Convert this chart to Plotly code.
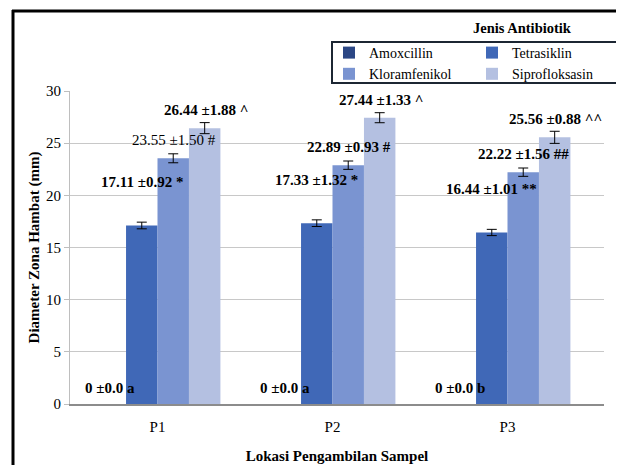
import plotly.graph_objects as go

# ---------------- data ----------------
categories = ["P1", "P2", "P3"]
series_names = ["Amoxcillin", "Tetrasiklin", "Kloramfenikol", "Siprofloksasin"]
amoxcillin = [0, 0, 0]
tetrasiklin = [17.11, 17.33, 16.44]
kloramfenikol = [23.55, 22.89, 22.22]
siprofloksasin = [26.44, 27.44, 25.56]
# error bar half-heights as drawn in the picture
err_amoxcillin = [0, 0, 0]
err_tetrasiklin = [0.32, 0.32, 0.30]
err_kloramfenikol = [0.43, 0.40, 0.40]
err_siprofloksasin = [0.53, 0.48, 0.58]
# value labels
lbl_amoxcillin = ["0 ±0.0 a", "0 ±0.0 a", "0 ±0.0 b"]
lbl_tetrasiklin = ["17.11 ±0.92 *", "17.33 ±1.32 *", "16.44 ±1.01 **"]
lbl_kloramfenikol = ["23.55 ±1.50 #", "22.89 ±0.93 #", "22.22 ±1.56 ##"]
lbl_siprofloksasin = ["26.44 ±1.88 ^", "27.44 ±1.33 ^", "25.56 ±0.88 ^^"]
lbl_bold_kloramfenikol = [False, True, True]
y_ticks = [0, 5, 10, 15, 20, 25, 30]

colors = ["#2B4785", "#4068B7", "#7A94D1", "#B4C0E1"]
FONT = "Liberation Serif, Times New Roman, serif"

values = [amoxcillin, tetrasiklin, kloramfenikol, siprofloksasin]
errors = [err_amoxcillin, err_tetrasiklin, err_kloramfenikol, err_siprofloksasin]
labels = [lbl_amoxcillin, lbl_tetrasiklin, lbl_kloramfenikol, lbl_siprofloksasin]
legend_ref = ["legend", "legend2", "legend", "legend2"]

# layout geometry (target screen pixels); page body has an 8px margin
OFF = 8
W, H = 624, 465
PL, PR, PT, PB = 70, 604, 91, 404          # plot area on screen
ML = PL - OFF
MT = PT - OFF
PW = PR - PL
PH = PB - PT
MR = W - ML - PW
MB = H - MT - PH


def X(px):
    return (px - PL) / PW


def Y(py):
    return (PB - py) / PH


fig = go.Figure()
for i, name in enumerate(series_names):
    fig.add_trace(go.Bar(
        name=name, x=categories, y=values[i],
        marker=dict(color=colors[i], line=dict(width=0)),
        error_y=dict(type="data", array=errors[i], visible=(i > 0),
                     color="#000000", thickness=1, width=5),
        legend=legend_ref[i],
    ))

annotations = []
bar_offsets = [-48, -16, 16, 48]
label_lift = [16, 43, 18, 18]
for i in range(4):
    for j, c in enumerate(categories):
        txt = labels[i][j]
        bold = True
        if i == 2:
            bold = lbl_bold_kloramfenikol[j]
        if bold:
            txt = "<b>" + txt + "</b>"
        annotations.append(dict(
            x=c, y=values[i][j], xref="x", yref="y", text=txt,
            showarrow=False, xshift=bar_offsets[i], yshift=label_lift[i],
            yanchor="middle", xanchor="center",
            font=dict(family=FONT, size=15, color="#000000"),
        ))

annotations.append(dict(
    x=X(522), y=Y(28), xref="paper", yref="paper",
    text="<b>Jenis Antibiotik</b>", showarrow=False,
    xanchor="center", yanchor="middle",
    font=dict(family=FONT, size=14.5, color="#000000"),
))

shapes = [
    # legend box
    dict(type="rect", xref="paper", yref="paper",
         x0=X(332), x1=X(621), y0=Y(83), y1=Y(42),
         line=dict(color="#1C2633", width=2), fillcolor="rgba(0,0,0,0)"),
    # outer frame (left and top)
    dict(type="line", xref="paper", yref="paper",
         x0=X(13), x1=X(13), y0=Y(10), y1=Y(470),
         line=dict(color="#000000", width=3)),
    dict(type="line", xref="paper", yref="paper",
         x0=X(12), x1=X(630), y0=Y(11), y1=Y(11),
         line=dict(color="#000000", width=3)),
]

legend_common = dict(
    orientation="v", yanchor="top", xanchor="left",
    bgcolor="rgba(0,0,0,0)", borderwidth=0,
    font=dict(family=FONT, size=14, color="#000000"),
    tracegroupgap=0, itemwidth=30,
)

fig.update_layout(
    width=W, height=H,
    margin=dict(l=ML, r=MR, t=MT, b=MB, autoexpand=False),
    paper_bgcolor="#FFFFFF", plot_bgcolor="#FFFFFF",
    barmode="group", bargap=0.281, bargroupgap=0,
    font=dict(family=FONT, size=15, color="#000000"),
    showlegend=True,
    legend=dict(x=X(329), y=Y(37), **legend_common),
    legend2=dict(x=X(472), y=Y(37), **legend_common),
    annotations=annotations,
    shapes=shapes,
    xaxis=dict(
        showgrid=False, showline=True, linecolor="#8C8C8C", linewidth=2,
        ticks="", ticklabelstandoff=8,
        tickfont=dict(family=FONT, size=15, color="#000000"),
        title=dict(text="<b>Lokasi Pengambilan Sampel</b>", standoff=16,
                   font=dict(family=FONT, size=15, color="#000000")),
    ),
    yaxis=dict(
        range=[0, 30], tickvals=y_ticks, showgrid=True, gridcolor="#C8C8C8",
        gridwidth=1, showline=True, linecolor="#BEBEBE", linewidth=1,
        ticks="outside", ticklen=5, tickcolor="#BEBEBE",
        tickfont=dict(family=FONT, size=15, color="#000000"),
        zeroline=False,
        title=dict(text="<b>Diameter Zona Hambat (mm)</b>", standoff=2,
                   font=dict(family=FONT, size=15, color="#000000")),
    ),
)

fig.write_html("out.html")
